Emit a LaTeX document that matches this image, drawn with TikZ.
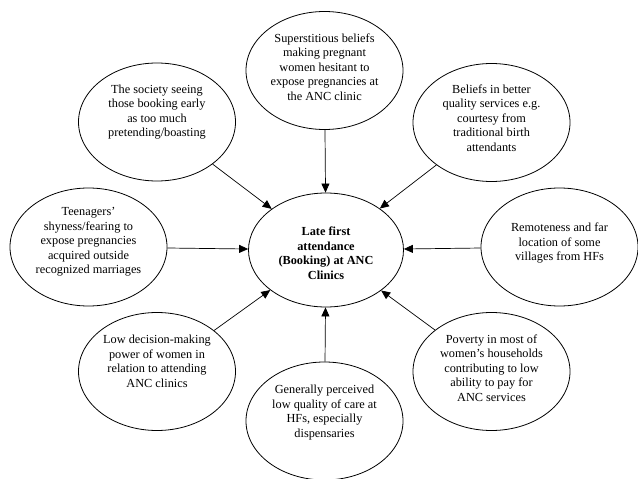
\documentclass[tikz,border=0pt]{standalone}
\usepackage{fontspec}
\setmainfont{Liberation Serif}
\usetikzlibrary{arrows.meta, positioning, shapes.geometric}

\begin{document}
\begin{tikzpicture}[x=1pt, y=1pt,
    cause/.style={ellipse, draw, line width=0.8pt, minimum width=157pt, minimum height=118pt, inner sep=0pt},
    causetext/.style={align=center, font=\fontsize{12.3}{14.5}\selectfont},
    arr/.style={-{Triangle[length=9pt, width=8pt]}, line width=0.7pt}]
  \useasboundingbox (0,0) rectangle (638,-479);

  % Central problem
  \node[cause, minimum width=155pt, minimum height=114pt] (late) at (326,-250) {};
  \node[causetext, font=\fontsize{12.3}{14.5}\selectfont\bfseries] at ([yshift=-3]late.center)
    {Late first\\attendance\\(Booking) at ANC\\Clinics};

  % Causes, clockwise from the top
  \node[cause] (sup) at (324.5,-70.5) {};
  \node[causetext] at ([yshift=3.5]sup.center)
    {Superstitious beliefs\\making pregnant\\women hesitant to\\expose pregnancies at\\the ANC clinic};

  \node[cause] (bel) at (491.5,-122.5) {};
  \node[causetext] at ([yshift=4.5]bel.center)
    {Beliefs in better\\quality services e.g.\\courtesy from\\traditional birth\\attendants};

  \node[cause] (rem) at (559.5,-247) {};
  \node[causetext] at ([yshift=4]rem.center)
    {Remoteness and far\\location of some\\villages from HFs};

  \node[cause] (pov) at (491.5,-371.5) {};
  \node[causetext] at ([yshift=3.5]pov.center)
    {Poverty in most of\\women's households\\contributing to low\\ability to pay for\\ANC services};

  \node[cause] (gen) at (324.5,-421) {};
  \node[causetext] at ([yshift=8.5]gen.center)
    {Generally perceived\\low quality of care at\\HFs, especially\\dispensaries};

  \node[cause] (dec) at (157,-371.5) {};
  \node[causetext] at ([yshift=10]dec.center)
    {Low decision-making\\power of women in\\relation to attending\\ANC clinics};

  \node[cause] (teen) at (88.5,-247) {};
  \node[causetext] at ([yshift=5]teen.center)
    {Teenagers'\\shyness/fearing to\\expose pregnancies\\acquired outside\\recognized marriages};

  \node[cause] (soc) at (157,-122) {};
  \node[causetext] at ([yshift=10]soc.center)
    {The society seeing\\those booking early\\as too much\\pretending/boasting};

  % Arrows into the centre
  \foreach \c in {sup, bel, rem, pov, gen, dec, teen, soc}
    \draw[arr] (\c) -- (late);
\end{tikzpicture}
\end{document}
